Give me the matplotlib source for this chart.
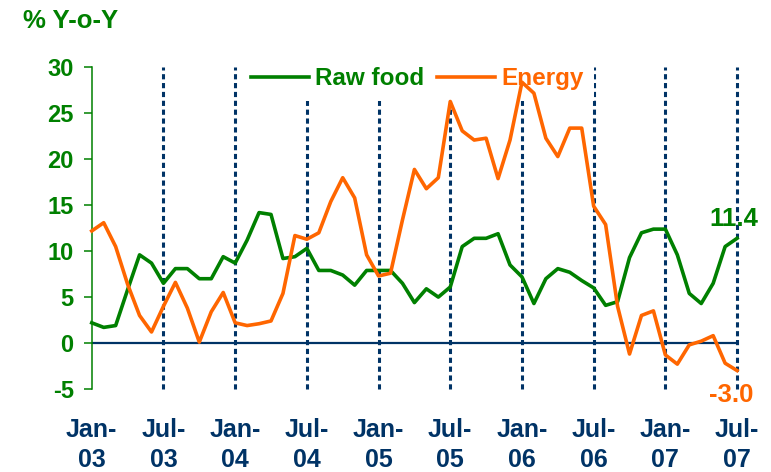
import matplotlib.pyplot as plt
import numpy as np

# monthly data, Jan-03 .. Jul-07
raw_food = [
    2.2, 1.7, 1.9, 5.8, 9.6, 8.7, 6.5, 8.1, 8.1, 7.0, 7.0, 9.4,
    8.7, 11.2, 14.2, 14.0, 9.2, 9.4, 10.3, 7.9, 7.9, 7.4, 6.3, 7.9,
    7.9, 7.9, 6.5, 4.4, 5.9, 5.0, 6.1, 10.5, 11.4, 11.4, 11.9, 8.5,
    7.2, 4.3, 7.0, 8.1, 7.7, 6.8, 6.0, 4.1, 4.5, 9.3, 12.0, 12.4,
    12.4, 9.6, 5.4, 4.3, 6.5, 10.5, 11.4,
]
energy = [
    12.2, 13.1, 10.5, 6.4, 3.0, 1.2, 4.0, 6.6, 3.8, 0.1, 3.4, 5.5,
    2.2, 1.9, 2.1, 2.4, 5.4, 11.7, 11.3, 12.0, 15.4, 18.0, 15.8, 9.6,
    7.3, 7.6, 13.4, 18.9, 16.8, 18.0, 26.3, 23.1, 22.1, 22.3, 17.9, 22.1,
    28.4, 27.2, 22.3, 20.3, 23.4, 23.4, 14.9, 12.9, 4.0, -1.2, 3.0, 3.5,
    -1.3, -2.3, -0.2, 0.2, 0.8, -2.2, -3.0,
]
tick_labels = ["Jan-\n03", "Jul-\n03", "Jan-\n04", "Jul-\n04", "Jan-\n05",
               "Jul-\n05", "Jan-\n06", "Jul-\n06", "Jan-\n07", "Jul-\n07"]

GREEN = "#008000"
ORANGE = "#FF6600"
NAVY = "#003366"

plt.rcParams["font.family"] = ["Liberation Sans", "DejaVu Sans"]
plt.rcParams["font.weight"] = "bold"
plt.rcParams["axes.unicode_minus"] = False

fig = plt.figure(figsize=(7.71, 4.72), dpi=100)
ax = fig.add_axes([0.119, 0.176, 0.837, 0.681])

x = np.arange(len(raw_food))
tick_pos = np.arange(0, len(raw_food), 6)

for p in tick_pos[1:]:
    ax.axvline(p, color=NAVY, lw=2.2, linestyle=(0, (1.7, 1.2)),
               zorder=1, clip_on=False)
ax.axhline(0, color=NAVY, lw=1.6, zorder=2)

ax.plot(x, raw_food, color=GREEN, lw=2.6, label="Raw food", zorder=3,
        clip_on=False)
ax.plot(x, energy, color=ORANGE, lw=2.6, label="Energy", zorder=3,
        clip_on=False)

ax.set_xlim(0, len(raw_food) - 1)
ax.set_ylim(-5, 30)
ax.set_yticks(np.arange(-5, 31, 5))
ax.set_xticks(tick_pos)
ax.set_xticklabels(tick_labels, linespacing=1.3)

for s in ["top", "right", "bottom"]:
    ax.spines[s].set_visible(False)
ax.spines["left"].set_color(GREEN)
ax.spines["left"].set_linewidth(1.1)

ax.tick_params(axis="y", colors=GREEN, labelsize=17, length=6, width=1.1, pad=7)
ax.tick_params(axis="x", colors=NAVY, labelsize=18, length=0, pad=21)
for lbl in ax.get_yticklabels() + ax.get_xticklabels():
    lbl.set_fontweight("bold")

leg = ax.legend(
    loc="center", bbox_to_anchor=(0.541, 0.833), bbox_transform=fig.transFigure,
    ncol=2, frameon=True, fontsize=17.5, handlelength=2.4, handletextpad=0.25,
    columnspacing=0.5, borderpad=0.45, fancybox=False,
)
leg.get_frame().set_edgecolor("none")
leg.get_frame().set_facecolor("white")
leg.get_frame().set_alpha(1)
leg.set_zorder(2.5)
for txt, c in zip(leg.get_texts(), [GREEN, ORANGE]):
    txt.set_color(c)

ax.annotate(f"{raw_food[-1]:.1f}", (x[-1], raw_food[-1]), xytext=(-2, 5),
            textcoords="offset points", ha="center", va="bottom",
            color=GREEN, fontsize=18.5, fontweight="bold", annotation_clip=False)
ax.annotate(f"{energy[-1]:.1f}", (x[-1], energy[-1]), xytext=(-4, -9),
            textcoords="offset points", ha="center", va="top",
            color=ORANGE, fontsize=18.5, fontweight="bold", annotation_clip=False)

fig.text(23 / 771, 1 - 9 / 472, "% Y-o-Y", color=GREEN, fontsize=18.5,
         fontweight="bold", ha="left", va="top")

fig.savefig("out.png", dpi=100)
plt.close(fig)
